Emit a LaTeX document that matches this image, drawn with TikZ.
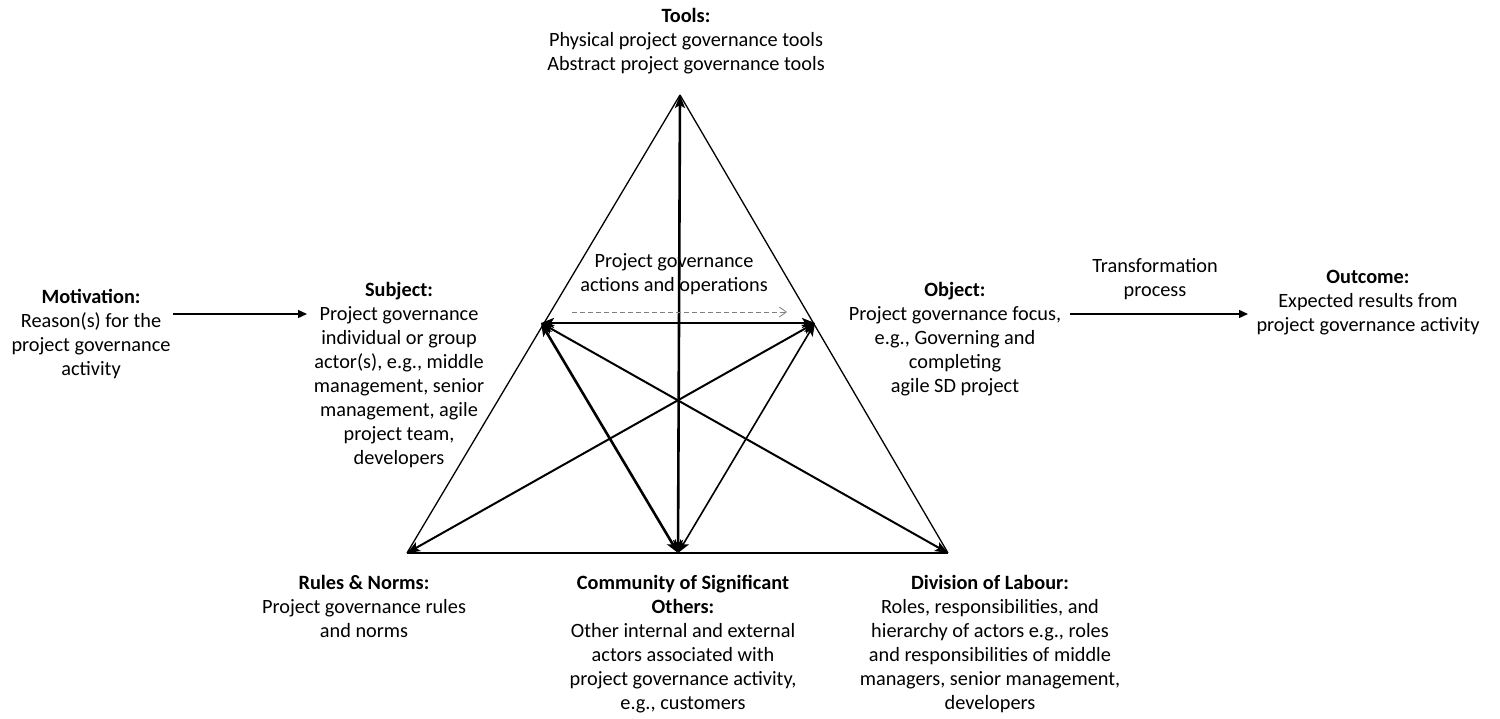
\documentclass[tikz,border=0pt]{standalone}
\usepackage{fontspec}
\setmainfont{Carlito}
\usetikzlibrary{arrows.meta}
\begin{document}
\begin{tikzpicture}[x=1pt,y=-1pt,
  lbl/.style={font=\fontsize{20.3}{24}\selectfont, align=center, inner sep=0pt, anchor=north},
  edge/.style={line width=1.3pt, black},
  link/.style={line width=2pt, black, {Stealth[length=13pt,width=10pt,inset=3pt]}-{Stealth[length=13pt,width=10pt,inset=3pt]}},
  strong/.style={link, line width=2.6pt},
  flow/.style={line width=1.4pt, -{Triangle[length=9pt,width=8pt]}},
  hint/.style={line width=0.8pt, gray, dash pattern=on 5pt off 3pt, -{Straight Barb[length=7pt,width=10pt]}}]
\useasboundingbox (0,0) rectangle (1500,719);

% vertices of the activity triangle
\coordinate (T) at (680,95);
\coordinate (R) at (407,553);
\coordinate (D) at (948,553);
\coordinate (C) at (678,553);
\coordinate (S) at (541,323);
\coordinate (O) at (815,323);

% outer triangle
\draw[edge] (T) -- (R);
\draw[edge] (T) -- (D);
\draw[line width=2pt] (R) -- (D);

% mediating relations
\draw[strong] (T) -- (C);
\draw[strong] (S) -- (O);
\draw[strong] (S) -- (C);
\draw[link] (S) -- (D);
\draw[link] (O) -- (R);
\draw[link, line width=1.6pt] (O) -- (C);

% labels
\node[lbl] (tools) at (686,8) {\bfseries Tools:\\Physical project governance tools\\Abstract project governance tools};
\node[lbl] (motiv) at (91,289) {\bfseries Motivation:\\Reason(s) for the\\project governance\\activity};
\node[lbl] (subj) at (399,282) {\bfseries Subject:\\Project governance\\individual or group\\actor(s), e.g., middle\\management, senior\\management, agile\\project team,\\developers};
\node[lbl] (obj) at (955,282) {\bfseries Object:\\Project governance focus,\\e.g., Governing and\\completing\\agile SD project};
\node[lbl] (trans) at (1155,258) {Transformation\\process};
\node[lbl] (outc) at (1368,270) {\bfseries Outcome:\\Expected results from\\project governance activity};
\node[lbl] (acts) at (674,253) {Project governance\\actions and operations};
\node[lbl] (rules) at (364,575) {\bfseries Rules \& Norms:\\Project governance rules\\and norms};
\node[lbl] (comm) at (683,575) {\bfseries Community of Significant\\\bfseries Others:\\Other internal and external\\actors associated with\\project governance activity,\\e.g., customers};
\node[lbl] (divl) at (990,575) {\bfseries Division of Labour:\\Roles, responsibilities, and\\hierarchy of actors e.g., roles\\and responsibilities of middle\\managers, senior management,\\developers};

% process arrows
\coordinate (m1) at (173,314);
\coordinate (m2) at (307,314);
\coordinate (o1) at (1070,314);
\coordinate (o2) at (1248,314);
\draw[flow] (m1) -- (m2);
\draw[flow] (o1) -- (o2);

% dashed action arrow
\coordinate (a1) at (572,312);
\coordinate (a2) at (787,312);
\draw[hint] (a1) -- (a2);
\end{tikzpicture}
\end{document}
